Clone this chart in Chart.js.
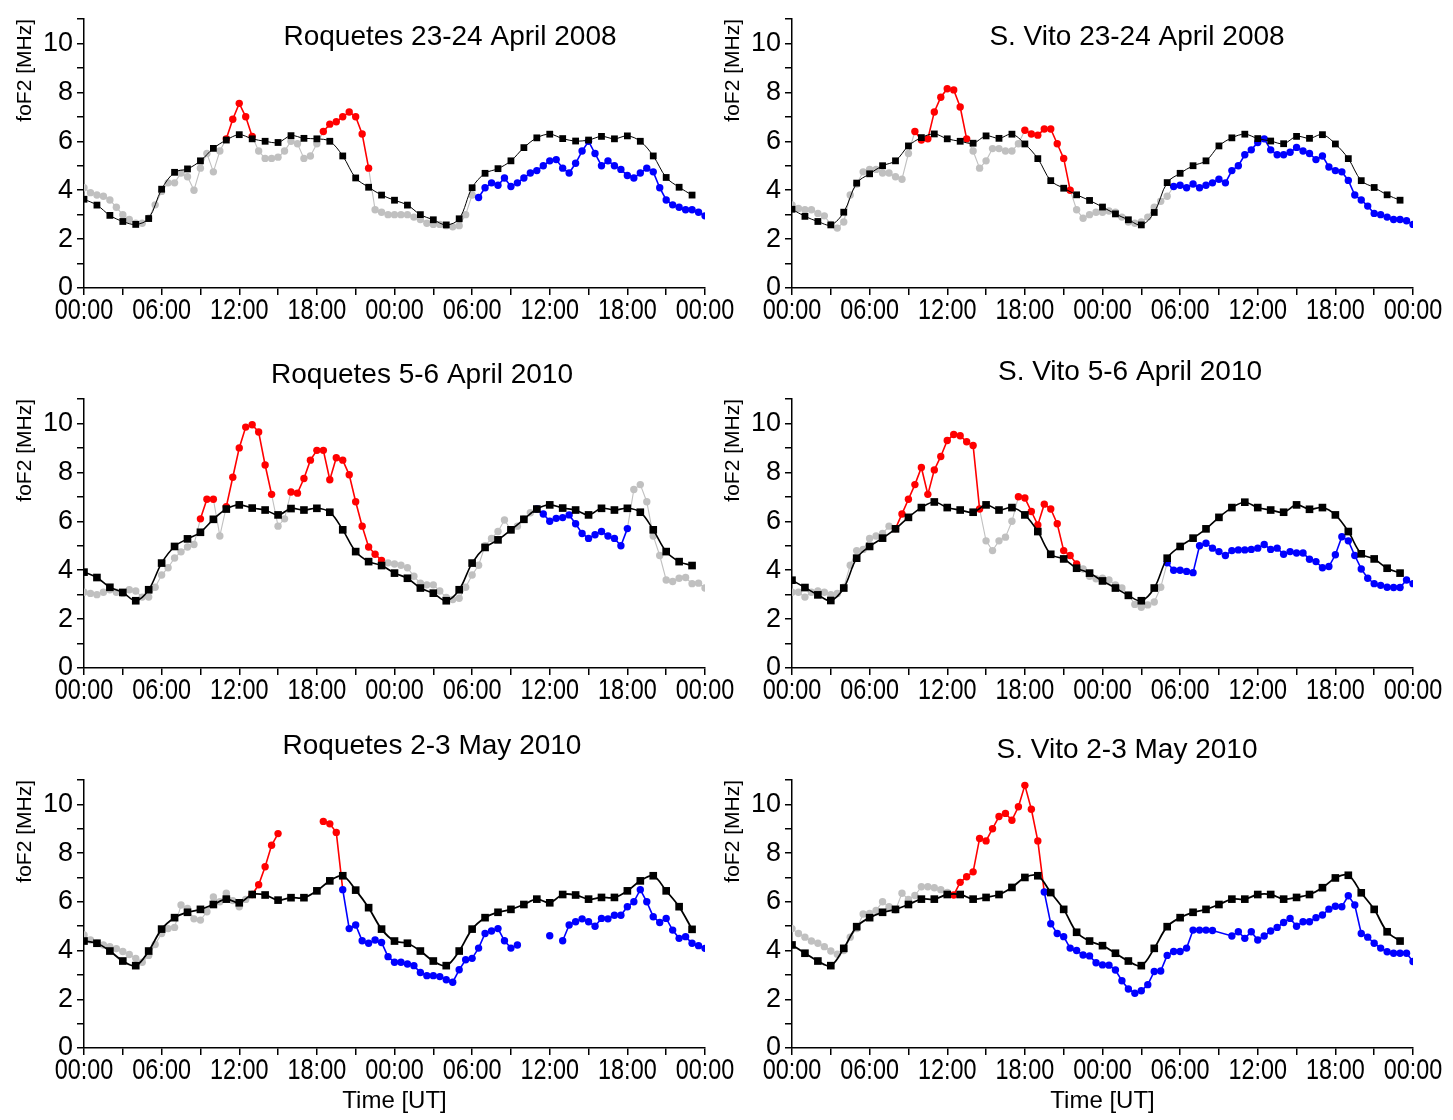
<!DOCTYPE html>
<html>
<head>
<meta charset="utf-8">
<script src="https://cdn.jsdelivr.net/npm/chart.js@4.4.1/dist/chart.umd.min.js"></script>
<style>
  body { margin: 0; background: #fff; width: 1453px; height: 1120px; position: relative; overflow: hidden; }
  canvas { position: absolute; }
</style>
</head>
<body>
<canvas id="p0"></canvas>
<canvas id="p1"></canvas>
<canvas id="p2"></canvas>
<canvas id="p3"></canvas>
<canvas id="p4"></canvas>
<canvas id="p5"></canvas>
<script>
// x axis: hours since 00:00 of first day, 0..48
const TIME_LABELS = ['00:00', '06:00', '12:00', '18:00', '00:00', '06:00', '12:00', '18:00', '00:00'];
const OBS_STEP = 0.5; // observed foF2 every 30 min

// ---- Roquetes 23-24 April 2008 ----
const ROQ_0804_OBS = [
  4.1, 3.9, 3.8, 3.75, 3.6, 3.3, 3.0, 2.8, 2.65, 2.65, 2.85, 3.4,
  3.95, 4.3, 4.3, 4.7, 4.55, 4.0, 4.9, 5.5, 4.75, 5.6, 6.1, 6.9,
  7.55, 7.0, 6.2, 5.6, 5.3, 5.3, 5.35, 5.6, 6.0, 5.9, 5.3, 5.4,
  5.9, 6.4, 6.7, 6.8, 7.0, 7.2, 7.0, 6.3, 4.9, 3.2, 3.1, 3.0,
  3.0, 3.0, 3.0, 2.9, 2.8, 2.65, 2.6, 2.6, 2.55, 2.5, 2.55, 3.0,
  3.8, 3.7, 4.1, 4.3, 4.2, 4.5, 4.15, 4.3, 4.5, 4.7, 4.8, 5.0,
  5.2, 5.25, 4.9, 4.7, 5.1, 5.6, 6.0, 5.5, 5.0, 5.2, 5.0, 4.85,
  4.6, 4.5, 4.7, 4.9, 4.75, 4.1, 3.6, 3.4, 3.3, 3.2, 3.2, 3.1,
  2.95
];
const ROQ_0804_MEDIAN = [
  3.63, 3.39, 2.97, 2.72, 2.6, 2.84, 4.04, 4.73, 4.87, 5.2, 5.71, 6.05,
  6.27, 6.1, 6.0, 5.95, 6.23, 6.12, 6.1, 6.0, 5.4, 4.5, 4.12, 3.8,
  3.59, 3.39, 3.0, 2.79, 2.58, 2.83, 4.1, 4.69, 4.88, 5.2, 5.74, 6.14,
  6.29, 6.11, 6.01, 6.05, 6.2, 6.1, 6.22, 6.0, 5.4, 4.52, 4.12, 3.8
];
const ROQ_0804_POS = [[11, 13], [18.5, 22]];
const ROQ_0804_NEG = [[30.5, 48]];

// ---- S. Vito 23-24 April 2008 ----
const VITO_0804_OBS = [
  3.4, 3.25, 3.2, 3.2, 3.05, 2.95, 2.6, 2.45, 2.7, 3.8, 4.25, 4.75,
  4.85, 4.85, 4.7, 4.7, 4.55, 4.45, 5.5, 6.4, 6.05, 6.1, 7.2, 7.8,
  8.15, 8.1, 7.4, 6.1, 5.6, 4.9, 5.2, 5.7, 5.7, 5.6, 5.6, 5.9,
  6.45, 6.3, 6.25, 6.5, 6.5, 5.9, 5.3, 4.0, 3.2, 2.85, 3.0, 3.1,
  3.1, 3.15, 3.1, 2.9, 2.7, 2.65, 2.7, 2.9, 3.3, 3.55, 3.75, 4.15,
  4.2, 4.1, 4.25, 4.1, 4.2, 4.3, 4.45, 4.3, 4.8, 5.0, 5.45, 5.65,
  5.95, 6.1, 5.65, 5.45, 5.45, 5.55, 5.75, 5.6, 5.5, 5.25, 5.4, 4.95,
  4.8, 4.75, 4.4, 3.8, 3.6, 3.35, 3.05, 3.0, 2.9, 2.8, 2.8, 2.75,
  2.6
];
const VITO_0804_MEDIAN = [
  3.22, 2.93, 2.72, 2.58, 3.1, 4.29, 4.67, 5.0, 5.2, 5.81, 6.15, 6.3,
  6.1, 6.0, 5.92, 6.22, 6.12, 6.29, 5.89, 5.29, 4.39, 4.08, 3.81, 3.58,
  3.31, 3.03, 2.79, 2.58, 3.09, 4.31, 4.69, 5.0, 5.2, 5.81, 6.14, 6.29,
  6.11, 6.01, 5.9, 6.2, 6.12, 6.27, 5.89, 5.29, 4.39, 4.11, 3.81, 3.59
];
const VITO_0804_POS = [[9.5, 13.5], [18, 21.5]];
const VITO_0804_NEG = [[29.5, 48]];

// ---- Roquetes 5-6 April 2010 ----
const ROQ_1004_OBS = [
  3.1, 3.05, 3.0, 3.1, 3.2, 3.1, 3.05, 3.2, 3.15, 2.9, 2.9, 3.3,
  3.8, 4.1, 4.5, 4.75, 4.95, 5.05, 6.1, 6.9, 6.9, 5.4, 6.6, 7.8,
  9.0, 9.85, 9.95, 9.65, 8.3, 7.1, 5.8, 6.1, 7.2, 7.15, 7.75, 8.5,
  8.9, 8.9, 7.7, 8.6, 8.5, 7.9, 6.8, 5.8, 4.95, 4.65, 4.4, 4.3,
  4.25, 4.2, 4.1, 3.75, 3.47, 3.4, 3.4, 3.15, 2.88, 2.8, 2.85, 3.3,
  3.8, 4.2, 5.0, 5.3, 5.58, 6.05, 5.65, 5.8, 6.1, 6.35, 6.5, 6.3,
  6.0, 6.12, 6.15, 6.26, 5.9, 5.5, 5.3, 5.45, 5.58, 5.4, 5.3, 5.0,
  5.7, 7.3, 7.5, 6.8, 5.4, 4.6, 3.6, 3.54, 3.67, 3.7, 3.45, 3.47,
  3.27
];
const ROQ_1004_MEDIAN = [
  3.92, 3.7, 3.3, 3.09, 2.75, 3.2, 4.29, 4.97, 5.28, 5.55, 6.08, 6.5,
  6.67, 6.54, 6.46, 6.26, 6.52, 6.46, 6.53, 6.37, 5.65, 4.76, 4.35, 4.19,
  3.88, 3.67, 3.27, 3.06, 2.75, 3.2, 4.29, 4.93, 5.24, 5.65, 6.08, 6.5,
  6.67, 6.54, 6.46, 6.26, 6.53, 6.46, 6.53, 6.37, 5.65, 4.76, 4.35, 4.19
];
const ROQ_1004_POS = [[9, 10], [11, 14.5], [16, 23]];
const ROQ_1004_NEG = [[35, 42]];

// ---- S. Vito 5-6 April 2010 ----
const VITO_1004_OBS = [
  3.1, 3.1, 2.9, 3.1, 3.15, 3.1, 3.0, 3.05, 3.3, 4.2, 4.8, 4.85,
  5.3, 5.4, 5.5, 5.8, 5.7, 6.3, 6.9, 7.5, 8.2, 7.1, 8.1, 8.65,
  9.3, 9.55, 9.5, 9.25, 9.1, 6.5, 5.2, 4.8, 5.2, 5.35, 6.0, 7.0,
  6.95, 6.4, 5.85, 6.7, 6.5, 5.9, 4.8, 4.6, 4.25, 4.05, 3.75, 3.65,
  3.67, 3.6, 3.4, 3.27, 3.0, 2.6, 2.48, 2.58, 2.7, 3.3, 4.3, 4.0,
  4.0, 3.95, 3.9, 5.0, 5.1, 4.9, 4.76, 4.6, 4.8, 4.83, 4.83, 4.85,
  4.9, 5.05, 4.85, 4.9, 4.65, 4.76, 4.7, 4.7, 4.45, 4.35, 4.1, 4.15,
  4.63, 5.37, 5.2, 4.6, 4.05, 3.67, 3.45, 3.38, 3.3, 3.29, 3.29, 3.6,
  3.45
];
const VITO_1004_MEDIAN = [
  3.59, 3.29, 2.99, 2.76, 3.27, 4.49, 4.97, 5.31, 5.69, 6.16, 6.56, 6.79,
  6.56, 6.46, 6.37, 6.67, 6.46, 6.56, 6.26, 5.58, 4.65, 4.46, 4.08, 3.88,
  3.56, 3.27, 2.97, 2.75, 3.27, 4.49, 4.97, 5.31, 5.69, 6.16, 6.56, 6.78,
  6.56, 6.46, 6.37, 6.67, 6.49, 6.56, 6.26, 5.58, 4.67, 4.46, 4.08, 3.88
];
const VITO_1004_POS = [[8, 14.5], [17.5, 22]];
const VITO_1004_NEG = [[29, 48]];

// ---- Roquetes 2-3 May 2010 ----
const ROQ_1005_OBS = [
  4.64, 4.43, 4.3, 4.23, 4.16, 4.08, 3.96, 3.84, 3.68, 3.52, 3.8, 4.25,
  4.7, 4.9, 4.95, 5.87, 5.73, 5.3, 5.25, 5.59, 6.2, 6.0, 6.35, 6.05,
  5.8, 6.1, 6.3, 6.7, 7.44, 8.32, 8.8, null, null, null, null, null,
  null, 9.3, 9.2, 8.85, 6.5, 4.9, 5.05, 4.4, 4.3, 4.43, 4.33, 3.75,
  3.52, 3.52, 3.45, 3.38, 3.1, 2.97, 2.97, 2.93, 2.8, 2.7, 3.21, 3.62,
  3.68, 4.1, 4.7, 4.8, 4.9, 4.4, 4.1, 4.23, null, null, null, null,
  4.61, null, 4.4, 5.05, 5.18, 5.3, 5.18, 5.0, 5.32, 5.3, 5.45, 5.45,
  5.8, 6.0, 6.5, 6.0, 5.39, 5.15, 5.32, 4.84, 4.5, 4.57, 4.3, 4.2,
  4.09
];
const ROQ_1005_MEDIAN = [
  4.39, 4.3, 3.98, 3.57, 3.38, 3.98, 4.88, 5.35, 5.57, 5.69, 5.89, 6.11,
  5.96, 6.3, 6.28, 6.07, 6.17, 6.17, 6.45, 6.86, 7.07, 6.48, 5.76, 4.88,
  4.39, 4.3, 3.98, 3.57, 3.38, 3.98, 4.88, 5.35, 5.57, 5.69, 5.89, 6.11,
  5.96, 6.3, 6.28, 6.11, 6.18, 6.18, 6.45, 6.86, 7.07, 6.45, 5.8, 4.87
];
const ROQ_1005_POS = [[13, 19.5]];
const ROQ_1005_NEG = [[20, 48]];

// ---- S. Vito 2-3 May 2010 ----
const VITO_1005_OBS = [
  4.9, 4.7, 4.55, 4.39, 4.3, 4.16, 3.98, 3.85, 4.0, 4.55, 4.9, 5.5,
  5.52, 5.65, 6.0, 5.8, 5.66, 6.35, 6.1, 6.26, 6.62, 6.62, 6.58, 6.5,
  6.38, 6.28, 6.8, 7.03, 7.23, 8.6, 8.5, 9.0, 9.5, 9.63, 9.35, 9.9,
  10.78, 9.8, 8.5, 6.4, 5.1, 4.7, 4.57, 4.1, 4.0, 3.82, 3.78, 3.5,
  3.41, 3.4, 3.2, 2.76, 2.42, 2.25, 2.35, 2.6, 3.14, 3.16, 3.8, 3.96,
  3.96, 4.1, 4.84, 4.84, 4.84, 4.82, null, null, 4.6, 4.77, 4.5, 4.77,
  4.43, 4.6, 4.8, 4.95, 5.15, 5.32, 5.0, 5.18, 5.18, 5.35, 5.46, 5.7,
  5.82, 5.8, 6.25, 5.87, 4.7, 4.55, 4.3, 4.1, 3.95, 3.89, 3.89, 3.89,
  3.55
];
const VITO_1005_MEDIAN = [
  4.23, 3.89, 3.57, 3.38, 4.09, 4.98, 5.35, 5.57, 5.69, 5.89, 6.11, 6.11,
  6.3, 6.3, 6.11, 6.18, 6.3, 6.59, 7.0, 7.07, 6.38, 5.69, 4.75, 4.39,
  4.2, 3.89, 3.57, 3.38, 4.09, 4.98, 5.35, 5.57, 5.69, 5.89, 6.11, 6.11,
  6.3, 6.3, 6.11, 6.18, 6.3, 6.58, 6.98, 7.09, 6.37, 5.69, 4.77, 4.39
];
const VITO_1005_POS = [[12.5, 19]];
const VITO_1005_NEG = [[19.5, 48]];

const COLORS = { quiet: '#c0c0c0', pos: '#ff0000', neg: '#0000ff' };
const FONT = "'Liberation Sans', Arial, sans-serif";

// page layout (pixels)
const COLS = [
  { x: 0, w: 745, plotL: 84, plotR: 705, yTitlePad: 13 },
  { x: 715, w: 738, plotL: 792, plotR: 1413, yTitlePad: 6 }
];
const ROWS = [
  { y: 0, h: 345, plotT: 19, plotB: 288, lw: 1 },
  { y: 345, h: 380, plotT: 399, plotB: 668, lw: 1.6 },
  { y: 725, h: 395, plotT: 780, plotB: 1048, lw: 1.8 }
];

const panels = [
  { row: 0, col: 0, title: 'Roquetes 23-24 April 2008', tx: 450, ty: 37, obs: ROQ_0804_OBS, median: ROQ_0804_MEDIAN, pos: ROQ_0804_POS, neg: ROQ_0804_NEG },
  { row: 0, col: 1, title: 'S. Vito 23-24 April 2008', tx: 1137, ty: 37, obs: VITO_0804_OBS, median: VITO_0804_MEDIAN, pos: VITO_0804_POS, neg: VITO_0804_NEG },
  { row: 1, col: 0, title: 'Roquetes 5-6 April 2010', tx: 422, ty: 375, obs: ROQ_1004_OBS, median: ROQ_1004_MEDIAN, pos: ROQ_1004_POS, neg: ROQ_1004_NEG },
  { row: 1, col: 1, title: 'S. Vito 5-6 April 2010', tx: 1130, ty: 372, obs: VITO_1004_OBS, median: VITO_1004_MEDIAN, pos: VITO_1004_POS, neg: VITO_1004_NEG },
  { row: 2, col: 0, title: 'Roquetes 2-3 May 2010', tx: 432, ty: 746, obs: ROQ_1005_OBS, median: ROQ_1005_MEDIAN, pos: ROQ_1005_POS, neg: ROQ_1005_NEG },
  { row: 2, col: 1, title: 'S. Vito 2-3 May 2010', tx: 1127, ty: 750, obs: VITO_1005_OBS, median: VITO_1005_MEDIAN, pos: VITO_1005_POS, neg: VITO_1005_NEG, spanGaps: true }
];

Chart.defaults.font.family = FONT;
Chart.defaults.color = '#000';

function inRanges(ranges, h) {
  return ranges.some(r => h >= r[0] - 1e-6 && h <= r[1] + 1e-6);
}
function kind(p, h) {
  if (inRanges(p.pos, h)) return 'pos';
  if (inRanges(p.neg, h)) return 'neg';
  return 'quiet';
}
function segKind(p, h0, h1) {
  const a = kind(p, h0), b = kind(p, h1);
  if (a === b) return a;
  if (a !== 'quiet' && b !== 'quiet') return a;
  return 'quiet';
}

// panel title drawn at a fixed place on the canvas
const panelTitle = {
  id: 'panelTitle',
  afterDraw(chart, args, opts) {
    const ctx = chart.ctx;
    ctx.save();
    ctx.font = '28px ' + FONT;
    ctx.fillStyle = '#000';
    ctx.textAlign = 'center';
    ctx.textBaseline = 'middle';
    ctx.fillText(opts.text, opts.x, opts.y);
    ctx.restore();
  }
};

// time labels are tall and narrow in the original, so draw them squeezed
const timeLabels = {
  id: 'timeLabels',
  afterDraw(chart) {
    const s = chart.scales.x;
    const ctx = chart.ctx;
    ctx.save();
    ctx.font = '30px ' + FONT;
    ctx.fillStyle = '#000';
    ctx.textAlign = 'center';
    ctx.textBaseline = 'top';
    TIME_LABELS.forEach((t, k) => {
      ctx.save();
      ctx.translate(s.getPixelForValue(k * 6), s.top + 8);
      ctx.scale(0.78, 1);
      ctx.fillText(t, 0, 0);
      ctx.restore();
    });
    ctx.restore();
  }
};

panels.forEach((p, i) => {
  const col = COLS[p.col], row = ROWS[p.row];
  const canvas = document.getElementById('p' + i);
  canvas.width = col.w;
  canvas.height = row.h;
  canvas.style.left = col.x + 'px';
  canvas.style.top = row.y + 'px';

  const yWidth = col.plotL - col.x;
  const xHeight = row.y + row.h - row.plotB;

  new Chart(canvas, {
    type: 'line',
    data: {
      datasets: [
        {
          label: 'median',
          data: p.median.map((v, k) => ({ x: k, y: v })),
          borderColor: '#000',
          borderWidth: row.lw,
          pointStyle: 'rect',
          pointRadius: p.row === 0 ? 4.8 : 5.4,
          pointBackgroundColor: '#000',
          pointBorderWidth: 0,
          tension: 0.35
        },
        {
          label: 'foF2',
          data: p.obs.map((v, k) => ({ x: k * OBS_STEP, y: v })),
          borderColor: COLORS.quiet,
          borderWidth: 1.2,
          pointRadius: 3.7,
          pointBorderWidth: 0,
          pointBackgroundColor: ctx => COLORS[kind(p, ctx.dataIndex * OBS_STEP)],
          segment: {
            borderColor: ctx => COLORS[segKind(p, ctx.p0DataIndex * OBS_STEP, ctx.p1DataIndex * OBS_STEP)],
            borderWidth: ctx => segKind(p, ctx.p0DataIndex * OBS_STEP, ctx.p1DataIndex * OBS_STEP) === 'quiet' ? 1.1 : 1.6
          },
          spanGaps: !!p.spanGaps,
          tension: 0
        }
      ]
    },
    options: {
      responsive: false,
      animation: false,
      events: [],
      layout: { padding: { top: row.plotT - row.y, right: col.x + col.w - col.plotR, left: 0, bottom: 0 } },
      plugins: {
        legend: { display: false },
        tooltip: { enabled: false },
        panelTitle: { text: p.title, x: p.tx - col.x, y: p.ty - row.y }
      },
      scales: {
        x: {
          type: 'linear',
          min: 0,
          max: 48,
          afterFit(s) { s.height = xHeight; s.paddingLeft = 0; s.paddingRight = 0; },
          ticks: { stepSize: 3, autoSkip: false, display: false },
          grid: { drawOnChartArea: false, tickLength: 7, color: '#000', lineWidth: 1.5 },
          border: { color: '#000', width: 1.5 },
          title: {
            display: p.row === 2,
            text: 'Time [UT]',
            font: { size: 24 },
            color: '#000',
            padding: { top: 0, bottom: 4 }
          }
        },
        y: {
          min: 0,
          max: 11,
          afterFit(s) { s.width = yWidth; s.paddingTop = 0; s.paddingBottom = 0; },
          ticks: {
            stepSize: 1,
            autoSkip: false,
            padding: 4,
            font: { size: 27 },
            color: '#000',
            callback: v => (v % 2 === 0 ? v : '')
          },
          grid: { drawOnChartArea: false, tickLength: 7, color: '#000', lineWidth: 1.5 },
          border: { color: '#000', width: 1.5 },
          title: {
            display: true,
            text: 'foF2 [MHz]',
            align: 'end',
            font: { size: 21 },
            color: '#000',
            padding: { top: col.yTitlePad, bottom: 0 }
          }
        }
      }
    },
    plugins: [panelTitle, timeLabels]
  });
});
</script>
</body>
</html>
